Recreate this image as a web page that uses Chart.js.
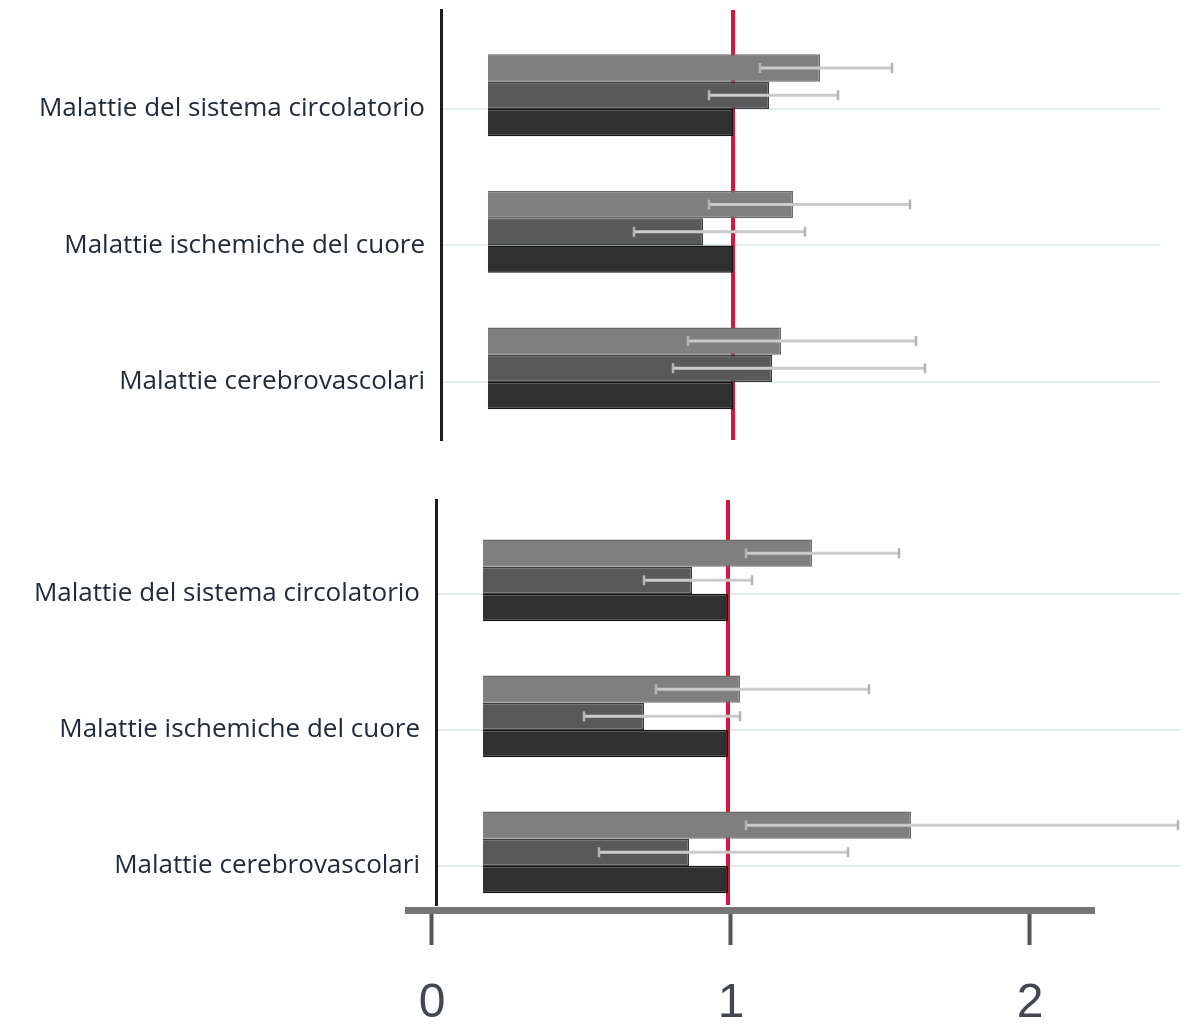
<!DOCTYPE html>
<html lang="it">
<head>
<meta charset="utf-8">
<title>Malattie del sistema circolatorio</title>
<script src="https://cdn.jsdelivr.net/npm/chart.js@4.4.1/dist/chart.umd.min.js"></script>
<style>
    html, body { margin: 0; padding: 0; background: #ffffff; }
    #page { position: relative; width: 1191px; height: 1031px; overflow: hidden; }
    #page canvas { position: absolute; }
    #topChart { left: 0; top: 0; }
    #bottomChart { left: 0; top: 450px; }
    #axisChart { left: 405px; top: 880px; }
</style>
</head>
<body>
<div id="page">
    <canvas id="topChart" width="1191" height="450"></canvas>
    <canvas id="bottomChart" width="1191" height="460"></canvas>
    <canvas id="axisChart" width="690" height="151"></canvas>
</div>
<script>
// Data
const categories = [
    'Malattie del sistema circolatorio',
    'Malattie ischemiche del cuore',
    'Malattie cerebrovascolari',
];
const axisTicks = [0, 1, 2];
const referenceValue = 1;
const barBase = 0.183;

// upper panel
const topLight = [1.29, 1.20, 1.16];
const topLightLow = [1.09, 0.92, 0.85];
const topLightHigh = [1.53, 1.59, 1.61];
const topMid = [1.12, 0.90, 1.13];
const topMidLow = [0.92, 0.67, 0.80];
const topMidHigh = [1.35, 1.24, 1.64];
const topDark = [1.00, 1.00, 1.00];

// lower panel
const bottomLight = [1.28, 1.04, 1.61];
const bottomLightLow = [1.06, 0.76, 1.06];
const bottomLightHigh = [1.57, 1.47, 2.50];
const bottomMid = [0.88, 0.72, 0.87];
const bottomMidLow = [0.72, 0.52, 0.57];
const bottomMidHigh = [1.08, 1.04, 1.40];
const bottomDark = [1.00, 1.00, 1.00];

const barColors = ['#7f7f7f', '#595959', '#303030'];
const barBorders = ['#6a6a6a', '#3c3c3c', '#141414'];

function toPoints(values) {
    return values.map((v, i) => ({ x: v, y: i }));
}

// red line at the reference value, drawn under the bars
const referenceLine = {
    id: 'referenceLine',
    beforeDatasetsDraw(chart) {
        const { ctx, chartArea, scales } = chart;
        const x = scales.x.getPixelForValue(referenceValue);
        ctx.save();
        ctx.strokeStyle = '#d3173f';
        ctx.lineWidth = 4;
        ctx.beginPath();
        ctx.moveTo(x, chartArea.top);
        ctx.lineTo(x, chartArea.bottom);
        ctx.stroke();
        ctx.restore();
    },
};

// confidence intervals on top of the bars
const errorBars = {
    id: 'errorBars',
    afterDatasetsDraw(chart) {
        const { ctx, chartArea, scales } = chart;
        ctx.save();
        ctx.beginPath();
        ctx.rect(chartArea.left, chartArea.top, chartArea.width, chartArea.height);
        ctx.clip();
        chart.data.datasets.forEach((ds, i) => {
            if (!ds.errorLow) return;
            const meta = chart.getDatasetMeta(i);
            meta.data.forEach((bar, j) => {
                const x1 = scales.x.getPixelForValue(ds.errorLow[j]);
                const x2 = scales.x.getPixelForValue(ds.errorHigh[j]);
                const y = bar.y;
                ctx.strokeStyle = '#cbcbcb';
                ctx.lineWidth = 3;
                ctx.beginPath();
                ctx.moveTo(x1, y);
                ctx.lineTo(x2, y);
                ctx.stroke();
                ctx.strokeStyle = '#b4b4b4';
                ctx.lineWidth = 2.5;
                ctx.beginPath();
                ctx.moveTo(x1, y - 5);
                ctx.lineTo(x1, y + 5);
                ctx.moveTo(x2, y - 5);
                ctx.lineTo(x2, y + 5);
                ctx.stroke();
            });
        });
        ctx.restore();
    },
};

/**
 * One panel: three bars per category plus an empty slot, like the original
 */
function createPanel(canvasId, series, layout) {
    const datasets = series.map((s, i) => ({
        data: toPoints(s.values),
        errorLow: s.low,
        errorHigh: s.high,
        backgroundColor: barColors[i],
        borderColor: barBorders[i],
        borderWidth: 1.5,
        base: barBase,
    }));
    datasets.push({ data: toPoints(categories.map(() => null)) });

    return new Chart(document.getElementById(canvasId), {
        type: 'bar',
        data: { datasets: datasets },
        plugins: [referenceLine, errorBars],
        options: {
            responsive: false,
            animation: false,
            indexAxis: 'y',
            categoryPercentage: 0.8,
            barPercentage: 1,
            layout: { padding: layout.padding },
            plugins: {
                legend: { display: false },
                tooltip: { enabled: false },
            },
            scales: {
                x: {
                    type: 'linear',
                    display: false,
                    min: layout.xMin,
                    max: layout.xMax,
                },
                y: {
                    type: 'linear',
                    reverse: true,
                    offset: false,
                    min: layout.yMin,
                    max: layout.yMax,
                    afterBuildTicks: (scale) => {
                        scale.ticks = categories.map((c, i) => ({ value: i }));
                    },
                    afterFit: (scale) => {
                        scale.width = layout.axisWidth;
                        scale.paddingTop = 0;
                        scale.paddingBottom = 0;
                    },
                    ticks: {
                        callback: (value) => categories[value] || '',
                        padding: 16,
                        color: '#222b37',
                        font: { family: 'Open Sans', size: 26 },
                    },
                    grid: {
                        offset: false,
                        color: '#e4eef0',
                        lineWidth: 2,
                        drawTicks: false,
                    },
                    border: { color: '#1c1c1c', width: 3 },
                },
            },
        },
    });
}

createPanel('topChart', [
    { values: topLight, low: topLightLow, high: topLightHigh },
    { values: topMid, low: topMidLow, high: topMidHigh },
    { values: topDark },
], {
    padding: { top: 10, right: 31, bottom: 10, left: 0 },
    axisWidth: 441,
    xMin: 0.0267, xMax: 2.4233,
    yMin: -0.725, yMax: 2.425,
});

createPanel('bottomChart', [
    { values: bottomLight, low: bottomLightLow, high: bottomLightHigh },
    { values: bottomMid, low: bottomMidLow, high: bottomMidHigh },
    { values: bottomDark },
], {
    padding: { top: 50, right: 10, bottom: 5, left: 0 },
    axisWidth: 436,
    xMin: 0.0267, xMax: 2.51,
    yMin: -0.691, yMax: 2.287,
});

// shared value axis at the bottom
new Chart(document.getElementById('axisChart'), {
    type: 'scatter',
    data: { datasets: [] },
    options: {
        responsive: false,
        animation: false,
        layout: { padding: { top: 20, right: 0, bottom: 0, left: 0 } },
        plugins: {
            legend: { display: false },
            tooltip: { enabled: false },
        },
        scales: {
            x: {
                type: 'linear',
                min: -0.0903,
                max: 2.2174,
                afterBuildTicks: (scale) => {
                    scale.ticks = axisTicks.map((v) => ({ value: v }));
                },
                afterFit: (scale) => {
                    scale.height = 121;
                    scale.paddingLeft = 0;
                    scale.paddingRight = 0;
                },
                ticks: {
                    padding: 30,
                    color: '#45464f',
                    font: { family: 'Liberation Sans', size: 48 },
                    callback: (value) => String(value),
                },
                grid: {
                    drawOnChartArea: false,
                    tickLength: 35,
                    tickWidth: 4,
                    tickColor: '#565656',
                },
                border: { color: '#767676', width: 7 },
            },
            y: { display: false },
        },
    },
});
</script>
</body>
</html>
